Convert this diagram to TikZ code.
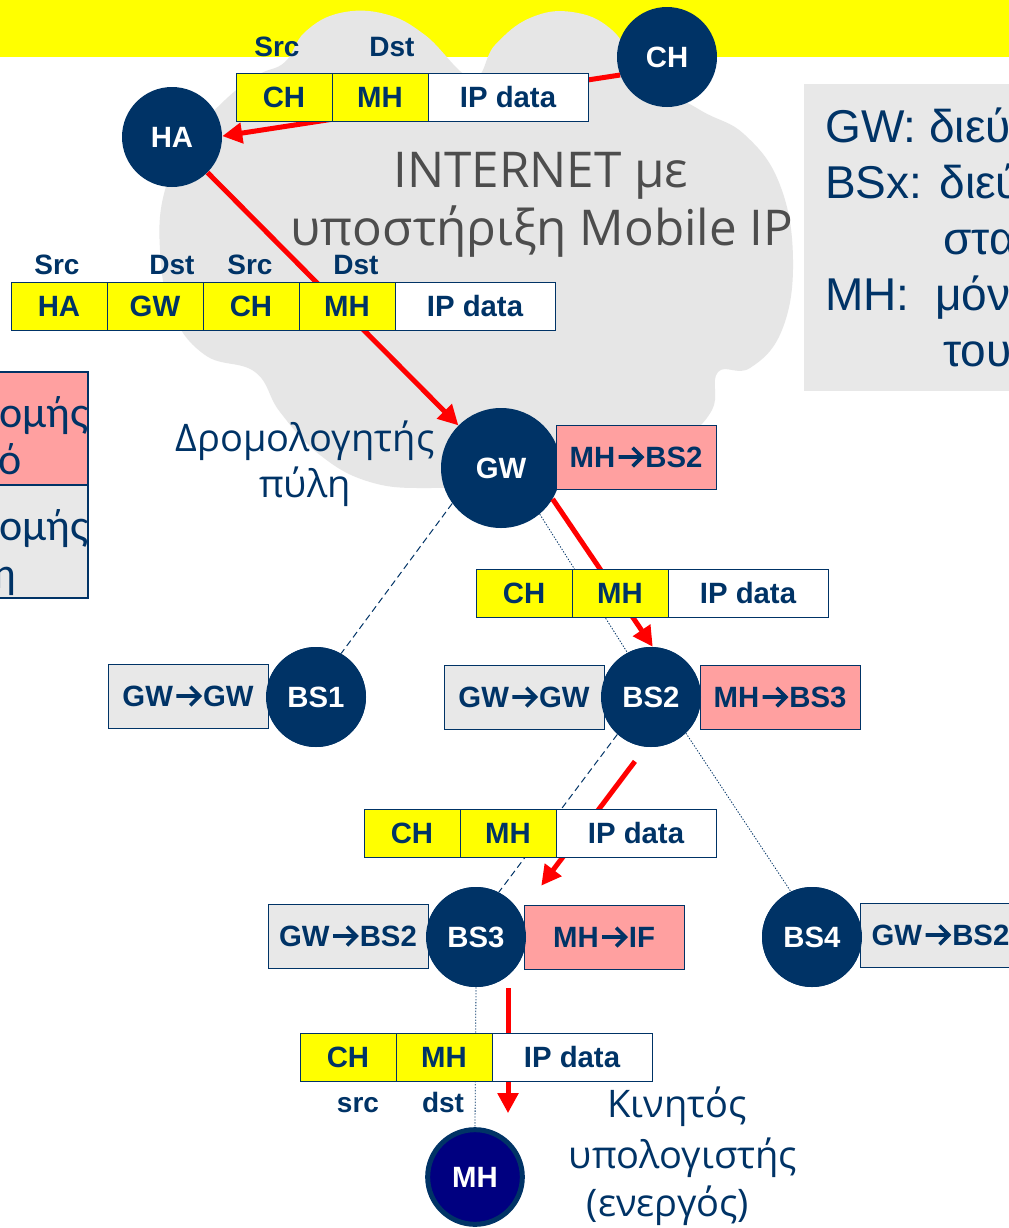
\documentclass[tikz,border=0pt]{standalone}
\usepackage{fontspec}
\setmainfont{Liberation Sans}
\newfontfamily\handfont{Open Sans}
\newfontfamily\calfont{Carlito}
\usetikzlibrary{arrows.meta,calc}
\definecolor{navyc}{RGB}{0,51,102}
\definecolor{deepblue}{RGB}{0,0,128}
\definecolor{pinkc}{RGB}{255,160,160}
\definecolor{grayc}{RGB}{232,232,232}
\definecolor{cloudc}{RGB}{230,230,230}
\definecolor{inettext}{RGB}{77,77,77}
\definecolor{yel}{RGB}{255,255,0}
\newcommand{\rarr}{\hspace{1.2pt}\tikz[baseline=0pt]{\draw[navyc, line width=2.7pt, line join=miter]
  (0pt,7.8pt) -- (17pt,7.8pt) (10.5pt,14.8pt) -- (17.5pt,7.8pt) -- (10.5pt,0.8pt);}\hspace{1.2pt}}
\tikzset{
  hostc/.style={circle, fill=navyc, minimum size=75pt, inner sep=0pt, text=white,
    font=\bfseries\fontsize{22}{24}\selectfont},
  cell/.style={draw=navyc, line width=0.75pt, fill=yel, minimum width=72pt, minimum height=36pt,
    inner sep=0pt, text=navyc, font=\bfseries\fontsize{22}{24}\selectfont},
  datacell/.style={cell, fill=white, minimum width=120pt},
  routebox/.style={draw=navyc, line width=0.75pt, fill=pinkc, minimum width=120pt, minimum height=48pt,
    inner sep=0pt, text=navyc, font=\bfseries\fontsize{22}{24}\selectfont},
  tablebox/.style={routebox, fill=grayc},
  hdr/.style={text=navyc, font=\bfseries\fontsize{21}{23}\selectfont, inner sep=0pt, anchor=base},
  flow/.style={draw=red, line width=3.75pt, -{Triangle[length=15pt,width=15pt]}},
  dashlink/.style={draw=navyc, line width=0.75pt, dash pattern=on 5pt off 3pt},
  dotlink/.style={draw=navyc, line width=0.6pt, dash pattern=on 1pt off 1.2pt},
  handtext/.style={font=\handfont\fontsize{28.5}{31}\selectfont, text=navyc, inner sep=0pt, anchor=base},
  inet/.style={font=\handfont\fontsize{37}{40}\selectfont, text=inettext, inner sep=0pt, anchor=base},
  notetext/.style={font=\fontsize{34.5}{38}\selectfont, text=navyc, inner sep=0pt, anchor=base west},
  sidetext/.style={font=\calfont\fontsize{33}{36}\selectfont, text=navyc, inner sep=0pt, anchor=base west}
}
\begin{document}
\begin{tikzpicture}[x=0.75pt,y=-0.75pt]
\useasboundingbox (0,0) rectangle (1009,1228);
\clip (0,0) rectangle (1009,1228);
\fill[white] (0,0) rectangle (1009,1228);
% yellow band
\fill[yel] (0,0) rectangle (1009,57);
% cloud
\fill[cloudc] plot[smooth cycle, tension=0.7] coordinates {
 (285,62) (305,32) (340,13) (385,14) (425,35) (472,78)
 (495,45) (530,18) (572,12) (612,30) (645,75)
 (700,110) (745,135) (780,185) (793,260) (782,330) (750,368) (718,372)
 (712,410) (680,440) (630,455) (575,468) (500,482) (430,488) (370,482)
 (320,455) (280,412) (255,372) (205,355) (172,312) (160,250) (165,190)
 (190,140) (225,100) (258,75)};
% internet text
\node[inet] (inet1) at (541,187) {INTERNET με};
\node[inet] (inet2) at (542,245) {υποστήριξη Mobile IP};

% right note box
\fill[grayc] (804,84) rectangle (1030,391);
\node[notetext] (n1) at (825,142) {GW: διεύθυνση};
\node[notetext] (n2) at (825,198) {BSx: διεύθυνση};
\node[notetext] (n3) at (943,254) {στατική};
\node[notetext] (n4) at (825,310) {MH:\ \ μόνιμη};
\node[notetext] (n5) at (943,366) {του};

% left legend boxes (cut)
\draw[navyc, line width=0.9pt, fill=pinkc] (-5,372) rectangle (88,485);
\draw[navyc, line width=0.9pt, fill=grayc] (-5,485) rectangle (88,598);
\node[sidetext] (l1) at (-1,427) {ομής};
\node[sidetext] (l2) at (-2,474) {ό};
\node[sidetext] (l3) at (-1,540) {ομής};
\node[sidetext] (l4) at (-8,588) {η};

% hosts
\node[hostc] (ch) at (667,57) {CH};
\node[hostc] (ha) at (172,137) {HA};
\node[hostc, minimum size=90pt] (gw) at (501,468) {GW};
\node[hostc] (bs1) at (316,697) {BS1};
\node[hostc] (bs2) at (651,697) {BS2};
\node[hostc] (bs3) at (476,937) {BS3};
\node[hostc] (bs4) at (812,937) {BS4};
\node[circle, fill=deepblue, draw=navyc, line width=3.75pt, minimum size=71pt, inner sep=0pt,
  text=white, font=\bfseries\fontsize{22}{24}\selectfont] (mh) at (475,1177) {MH};

% thin links
\draw[dashlink] (gw.216) -- (bs1.60);
\draw[dotlink] (gw.-50) -- (bs2.118);
\draw[dashlink] (bs2.228) -- (bs3.63);
\draw[dotlink] (bs2.-46) -- (bs4.115);
\draw[dotlink] (bs3.south) -- (mh.north);

% red flows
\draw[flow] (ch.201) -- (ha.1);
\draw[flow] (ha.-45) -- (gw.135);
\draw[flow] (gw.-31) -- (bs2.88);
\draw[flow, shorten <=13.5pt, shorten >=26pt] (bs2.-96) -- (bs3.28);
\draw[flow] ([xshift=24pt,yshift=-0.75pt]bs3.south) -- ([xshift=24.75pt,yshift=10.5pt]mh.north);

% packet 1
\node[cell] (p1a) at (284,97) {CH};
\node[cell] (p1b) at (380,97) {MH};
\node[datacell] (p1c) at (508,97) {IP data};
\node[hdr] (p1s) at (277,56) {Src};
\node[hdr] (p1d) at (392,56) {Dst};

% packet 2
\node[cell] (p2a) at (59,306) {HA};
\node[cell] (p2b) at (155,306) {GW};
\node[cell] (p2c) at (251,306) {CH};
\node[cell] (p2d) at (347,306) {MH};
\node[datacell] (p2e) at (475,306) {IP data};
\node[hdr] (p2s1) at (57,274) {Src};
\node[hdr] (p2d1) at (172,274) {Dst};
\node[hdr] (p2s2) at (250,274) {Src};
\node[hdr] (p2d2) at (356,274) {Dst};

% packet 3
\node[cell] (p3a) at (524,593) {CH};
\node[cell] (p3b) at (620,593) {MH};
\node[datacell] (p3c) at (748,593) {IP data};

% packet 4
\node[cell] (p4a) at (412,833) {CH};
\node[cell] (p4b) at (508,833) {MH};
\node[datacell] (p4c) at (636,833) {IP data};

% packet 5
\node[cell] (p5a) at (348,1057) {CH};
\node[cell] (p5b) at (444,1057) {MH};
\node[datacell] (p5c) at (572,1057) {IP data};
\node[hdr] (p5s) at (358,1112) {src};
\node[hdr] (p5d) at (443,1112) {dst};

% routing / table boxes
\node[routebox] (r1) at (636,457) {MH\rarr BS2};
\node[tablebox] (t1) at (188,696) {GW\rarr GW};
\node[tablebox] (t2) at (524,697) {GW\rarr GW};
\node[routebox] (r2) at (780,697) {MH\rarr BS3};
\node[tablebox] (t3) at (348,936) {GW\rarr BS2};
\node[routebox] (r3) at (604,937) {MH\rarr IF};
\node[tablebox, anchor=west] (t4) at (860,935) {GW\rarr BS2};

% redraw circles over box edges
\node[hostc] at (bs1) {BS1};
\node[hostc] at (bs2) {BS2};
\node[hostc] at (bs3) {BS3};
\node[hostc] at (bs4) {BS4};

% hand-written labels
\node[handtext] (g1) at (305,451) {Δρομολογητής};
\node[handtext] (g2) at (305,497) {πύλη};
\node[handtext] (k1) at (677,1117) {Κινητός};
\node[handtext] (k2) at (683,1168) {υπολογιστής};
\node[handtext] (k3) at (668,1216) {(ενεργός)};
\end{tikzpicture}
\end{document}
